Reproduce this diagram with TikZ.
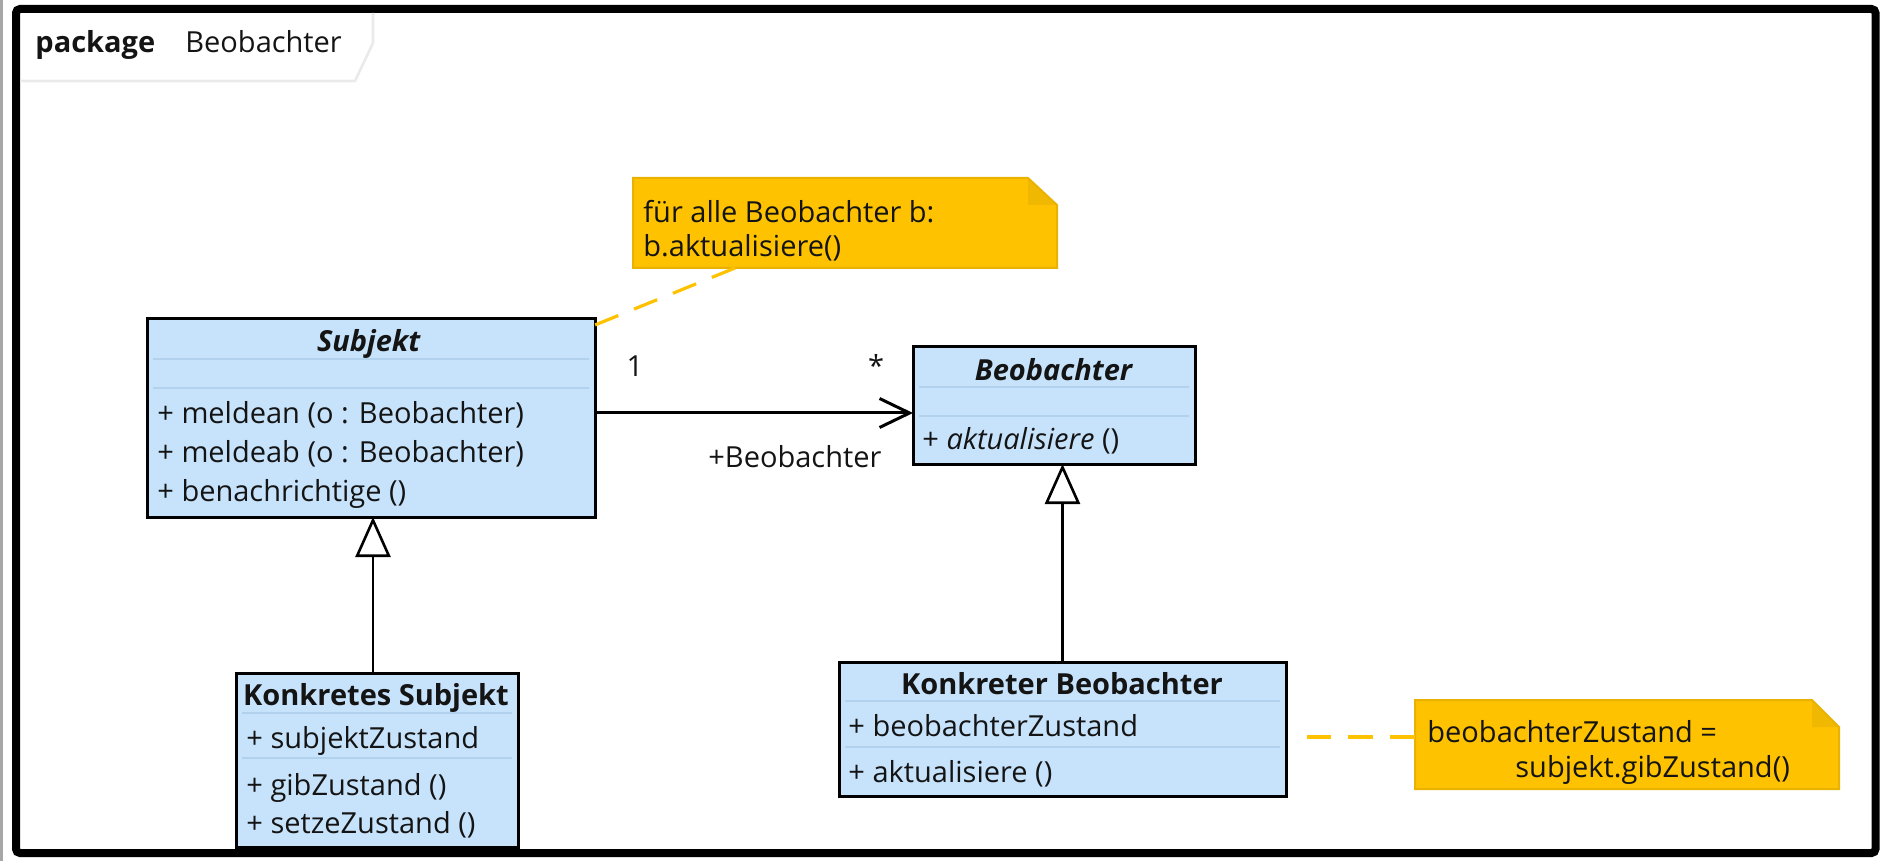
\documentclass[tikz,border=0pt]{standalone}
\usepackage{fontspec}
\setmainfont{Open Sans}
\usetikzlibrary{arrows.meta}
\definecolor{boxblue}{RGB}{199,227,251}
\definecolor{sepblue}{RGB}{178,209,236}
\definecolor{notegold}{RGB}{254,194,0}
\definecolor{noteedge}{RGB}{234,178,0}
\definecolor{notefold}{RGB}{240,184,0}
\definecolor{tabgray}{RGB}{234,234,234}
\definecolor{txt}{RGB}{20,20,20}
\tikzset{
  umlbox/.style={draw=black, line width=1.5pt, fill=boxblue, inner sep=0pt, outer sep=0pt, anchor=north west},
  notebox/.style={inner sep=0pt, outer sep=0pt, anchor=north west},
  sepline/.style={draw=sepblue, line width=1.2pt},
  txtl/.style={inner sep=0pt, anchor=base west, text=txt, font=\fontsize{14.5pt}{17pt}\selectfont},
  txtc/.style={inner sep=0pt, anchor=base, text=txt, font=\fontsize{14.5pt}{17pt}\selectfont},
  assoc/.style={draw=black, line width=1.5pt, -{Straight Barb[length=15pt, width=14.5pt]}},
  gener/.style={draw=black, line width=1.3pt, -{Triangle[open, length=20pt, width=17.5pt, fill=white]}},
  notelink/.style={draw=notegold, line width=1.6pt, dash pattern=on 12.5pt off 8.5pt},
}
\begin{document}
\begin{tikzpicture}[x=0.5pt, y=-0.5pt]
\useasboundingbox (0,0) rectangle (1886,861);
% outer frame
\draw[gray!70, line width=1.5pt] (1,0) -- (1,861);
\draw[black, line width=4pt, rounded corners=2pt] (16,9) rectangle (1875.5,853);
\draw[tabgray, line width=1.3pt] (20,81) -- (355,81) -- (373,43) -- (373,13);
\node[txtl] (pkgkw) at (35,53) {\textbf{package}};
\node[txtl] (pkgname) at (185,53) {Beobachter};

% Subjekt
\node[umlbox, minimum width=224pt, minimum height=99pt] (subj) at (147,319) {};
\draw[sepline] ([xshift=3pt,yshift=-20pt]subj.north west) -- ([xshift=-3pt,yshift=-20pt]subj.north east);
\draw[sepline] ([xshift=3pt,yshift=-34.5pt]subj.north west) -- ([xshift=-3pt,yshift=-34.5pt]subj.north east);
\node[txtc] (subjT) at (369,352) {\textbf{\textit{Subjekt}}};
\node[txtl] (subj1) at (157,423) {+ meldean (o : Beobachter)};
\node[txtl] (subj2) at (157,462.5) {+ meldeab (o : Beobachter)};
\node[txtl] (subj3) at (157,502) {+ benachrichtige ()};

% Beobachter
\node[umlbox, minimum width=141pt, minimum height=58.5pt] (beob) at (913,347) {};
\draw[sepline] ([xshift=3pt,yshift=-20pt]beob.north west) -- ([xshift=-3pt,yshift=-20pt]beob.north east);
\draw[sepline] ([xshift=3pt,yshift=-34.5pt]beob.north west) -- ([xshift=-3pt,yshift=-34.5pt]beob.north east);
\node[txtc] (beobT) at (1054,380) {\textbf{\textit{Beobachter}}};
\node[txtl] (beob1) at (922,450) {+ \textit{aktualisiere} ()};

% Konkretes Subjekt
\node[umlbox, minimum width=141pt, minimum height=87pt] (ksubj) at (236,673) {};
\draw[sepline] ([xshift=3pt,yshift=-20pt]ksubj.north west) -- ([xshift=-3pt,yshift=-20pt]ksubj.north east);
\draw[sepline] ([xshift=3pt,yshift=-42.5pt]ksubj.north west) -- ([xshift=-3pt,yshift=-42.5pt]ksubj.north east);
\node[txtc] (ksubjT) at (376,705) {\textbf{Konkretes Subjekt}};
\node[txtl] (ksubj1) at (246,748) {+ subjektZustand};
\node[txtl] (ksubj2) at (246,795) {+ gibZustand ()};
\node[txtl] (ksubj3) at (246,833) {+ setzeZustand ()};

% Konkreter Beobachter
\node[umlbox, minimum width=223.5pt, minimum height=67pt] (kbeob) at (839,662) {};
\draw[sepline] ([xshift=3pt,yshift=-19.5pt]kbeob.north west) -- ([xshift=-3pt,yshift=-19.5pt]kbeob.north east);
\draw[sepline] ([xshift=3pt,yshift=-42.5pt]kbeob.north west) -- ([xshift=-3pt,yshift=-42.5pt]kbeob.north east);
\node[txtc] (kbeobT) at (1062,694) {\textbf{Konkreter Beobachter}};
\node[txtl] (kbeob1) at (848,736) {+ beobachterZustand};
\node[txtl] (kbeob2) at (848,782) {+ aktualisiere ()};

% Note 1
\node[notebox, minimum width=212pt, minimum height=45pt] (note1) at (633,178) {};
\fill[notegold] (note1.south west) -- (note1.north west) -- ([xshift=-14.5pt]note1.north east) -- ([yshift=-13.5pt]note1.north east) -- (note1.south east) -- cycle;
\fill[notefold] ([xshift=-14.5pt]note1.north east) -- ([xshift=-14.5pt,yshift=-13.5pt]note1.north east) -- ([yshift=-13.5pt]note1.north east) -- cycle;
\draw[noteedge, line width=1pt] (note1.south west) -- (note1.north west) -- ([xshift=-14.5pt]note1.north east) -- ([yshift=-13.5pt]note1.north east) -- (note1.south east) -- cycle;
\node[txtl] (note1a) at (643,223) {für alle Beobachter b:};
\node[txtl] (note1b) at (643,257) {b.aktualisiere()};

% Note 2
\node[notebox, minimum width=212pt, minimum height=44.5pt] (note2) at (1415,700) {};
\fill[notegold] (note2.south west) -- (note2.north west) -- ([xshift=-13.5pt]note2.north east) -- ([yshift=-13.5pt]note2.north east) -- (note2.south east) -- cycle;
\fill[notefold] ([xshift=-13.5pt]note2.north east) -- ([xshift=-13.5pt,yshift=-13.5pt]note2.north east) -- ([yshift=-13.5pt]note2.north east) -- cycle;
\draw[noteedge, line width=1pt] (note2.south west) -- (note2.north west) -- ([xshift=-13.5pt]note2.north east) -- ([yshift=-13.5pt]note2.north east) -- (note2.south east) -- cycle;
\node[txtl] (note2a) at (1427,742) {beobachterZustand =};
\node[txtl] (note2b) at (1515,777) {subjekt.gibZustand()};

% connectors
\draw[assoc] ([yshift=-47pt]subj.north east) -- ([yshift=-33pt]beob.north west);
\node[txtc] (mult1) at (635,377) {1};
\node[txtc] (multn) at (876,377) {*};
\node[txtl] (role) at (708,467) {+Beobachter};

\draw[gener] ([xshift=-2pt]ksubj.north) -- ([xshift=-2pt]ksubj.north |- subj.south);
\draw[gener] (kbeob.north) -- (kbeob.north |- beob.south);

\draw[notelink] ([xshift=51pt]note1.south west) -- ([yshift=-3pt]subj.north east);
\coordinate (n2end) at (1307,737);
\draw[notelink] ([yshift=3.75pt]note2.west) -- (n2end);
\end{tikzpicture}
\end{document}
